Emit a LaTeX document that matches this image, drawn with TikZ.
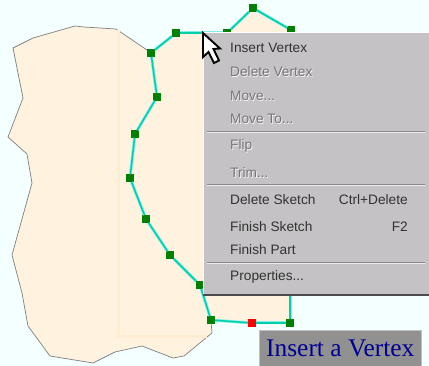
\documentclass[tikz,border=0pt]{standalone}
\usepackage{fontspec}
\setmainfont{Liberation Sans}
\newfontfamily\labelfont{Liberation Serif}
\definecolor{bgc}{HTML}{F4FFFF}
\definecolor{partc}{HTML}{FFF2DF}
\definecolor{bandc}{HTML}{FFEDD2}
\definecolor{menuc}{HTML}{C4C2C4}
\definecolor{edgec}{HTML}{00CDAA}
\definecolor{haloc}{HTML}{7FF0E8}
\definecolor{vertc}{HTML}{007F00}
\definecolor{capc}{HTML}{000090}
\tikzset{
  vert/.style={draw=none,fill=vertc,minimum size=8pt,inner sep=0pt,outer sep=0pt},
  hot/.style={vert,fill=red},
  sketchedge/.style={draw=edgec,line width=1.5pt,preaction={draw=haloc,line width=3pt}},
  item/.style={anchor=west,inner sep=0pt,font=\fontsize{13.7}{15}\selectfont,text=black!80},
  off/.style={anchor=west,inner sep=0pt,font=\fontsize{13.7}{15}\selectfont,text=black!40!menuc},
  offsh/.style={off,text=white!90!menuc},
  keyitem/.style={item,anchor=east},
  seplo/.style={draw=black!30!menuc,line width=.8pt},
  sephi/.style={draw=white!70!menuc,line width=.8pt}
}
\begin{document}
\begin{tikzpicture}[x=1pt,y=-1pt]
\useasboundingbox (0,0) rectangle (429,366);
\fill[bgc] (0,0) rectangle (429,366);
% part outline
\draw[fill=partc,draw=black!50,line width=.7pt]
 (13,48)--(33,38)--(75,26)--(84,27)--(116,29)--(147,50)--(151,53)--(176,33)--(227,33)--(253,8)--(291,30)--(291,323)--(211,321)--(212,333)--(184,356)--(173,358)--(142,346)--(115,352)--(93,363)--(50,356)--(28,326)--(22,293)--(12,255)--(32,183)--(27,154)--(8,137)--(23,98)--cycle;
\fill[bandc] (116.5,30) rectangle (120,336);
\fill[bandc] (116.5,335) rectangle (207,338);
% sketch vertices
\node[vert] (v1) at (176,33) {};
\node[vert] (v2) at (151,53) {};
\node[vert] (v3) at (157,97) {};
\node[vert] (v4) at (135,134) {};
\node[vert] (v5) at (130,178) {};
\node[vert] (v6) at (146,219) {};
\node[vert] (v7) at (170,255) {};
\node[vert] (v8) at (200,285) {};
\node[vert] (v9) at (211,320) {};
\node[hot]  (v10) at (252,323) {};
\node[vert] (v11) at (290,323) {};
\node[vert] (v12) at (290,290) {};
\node[vert] (v13) at (227,33) {};
\node[vert] (v14) at (253,8) {};
\node[vert] (v15) at (291,30) {};
\foreach \a/\b in {v1/v2,v2/v3,v3/v4,v4/v5,v5/v6,v6/v7,v7/v8,v8/v9,v9/v10,v10/v11,v11/v12,v1/v13,v13/v14,v14/v15}
  \draw[sketchedge] (\a) -- (\b);
% menu
\node[draw=none,fill=menuc,anchor=north west,minimum width=226pt,minimum height=262pt,inner sep=0pt,outer sep=0pt] (menu) at (203,33) {};
\draw[white,line width=1pt] (menu.south west) -- (menu.north west) -- (menu.north east);
\draw[black!70,line width=1.5pt] (menu.south west) -- (menu.south east);
\draw[seplo] (207,131.5) -- (425,131.5); \draw[sephi] (207,132.5) -- (425,132.5);
\draw[seplo] (207,184.5) -- (425,184.5); \draw[sephi] (207,185.5) -- (425,185.5);
\draw[seplo] (207,262.5) -- (425,262.5); \draw[sephi] (207,263.5) -- (425,263.5);
\node[item] (i1) at (230,47.5) {Insert Vertex};
\node[offsh] (s2) at (230.7,72.7) {Delete Vertex};
\node[off] (i2) at (230,72) {Delete Vertex};
\node[offsh] (s3) at (230.7,96.7) {Move...};
\node[off] (i3) at (230,96) {Move...};
\node[offsh] (s4) at (230.7,119.7) {Move To...};
\node[off] (i4) at (230,119) {Move To...};
\node[offsh] (s5) at (230.7,146.7) {Flip};
\node[off] (i5) at (230,146) {Flip};
\node[offsh] (s6) at (230.7,173.7) {Trim...};
\node[off] (i6) at (230,173) {Trim...};
\node[item] (i7) at (230,199.5) {Delete Sketch};
\node[keyitem] (k7) at (408,199.5) {Ctrl+Delete};
\node[item] (i8) at (230,226.5) {Finish Sketch};
\node[keyitem] (k8) at (408,226.5) {F2};
\node[item] (i9) at (230,250) {Finish Part};
\node[item] (i10) at (230,277) {Properties...};
% cursor
\draw[fill=white,draw=black,line width=1.9pt,line join=miter] (203,33)--(203,57)--(208.5,52)--(214,63)--(219,60.5)--(213.5,49)--(220,48.5)--cycle;
% caption
\node[fill=black!43,draw=black!25,line width=.5pt,anchor=north west,minimum width=162pt,minimum height=37pt,inner sep=0pt,text=capc,font=\labelfont\fontsize{25.4}{27}\selectfont] (cap) at (259,330) {Insert a Vertex};
\end{tikzpicture}
\end{document}
